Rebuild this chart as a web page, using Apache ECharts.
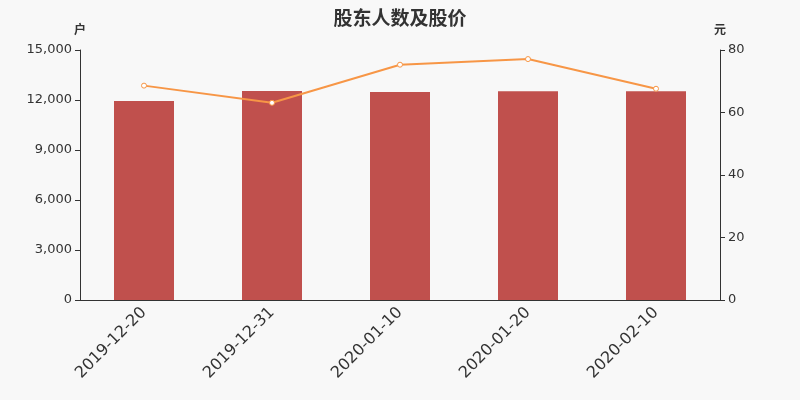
<!DOCTYPE html>
<html><head><meta charset="utf-8">
<script src="https://cdn.jsdelivr.net/npm/echarts@6/dist/echarts.min.js"></script>
<style>html,body{margin:0;padding:0;background:#f8f8f8;}#c{width:800px;height:400px;}</style>
</head><body><div id="c"></div>
<script>
var categories = ['2019-12-20','2019-12-31','2020-01-10','2020-01-20','2020-02-10'];
var holders = [11940, 12540, 12480, 12520, 12520];
var prices = [68.6, 63.1, 75.3, 77.1, 67.6];
var chart = echarts.init(document.getElementById('c'));
chart.setOption({
  backgroundColor: '#f8f8f8',
  animation: false,
  title: {text: '股东人数及股价', left: 'center', top: 3,
    textStyle: {fontSize: 19, fontWeight: 'bold', color: '#333', fontFamily: 'Noto Sans CJK SC'}},
  grid: {left: 80, right: 80, top: 50, bottom: 100},
  xAxis: {type: 'category', data: categories,
    axisLine: {lineStyle: {color: '#333'}},
    axisTick: {lineStyle: {color: '#333'}},
    axisLabel: {rotate: 45, fontSize: 16, color: '#333', margin: 10, fontFamily: 'DejaVu Sans'}},
  yAxis: [
    {type: 'value', name: '户', min: 0, max: 15000, interval: 3000,
     nameTextStyle: {color: '#333', fontSize: 12, fontWeight: 'bold', fontFamily: 'Noto Sans CJK SC'},
     axisLine: {show: true, lineStyle: {color: '#333'}},
     axisTick: {show: true, lineStyle: {color: '#333'}},
     splitLine: {show: false},
     axisLabel: {color: '#333', fontSize: 13, fontFamily: 'DejaVu Sans', formatter: function(v){return v.toLocaleString('en-US');}}},
    {type: 'value', name: '元', min: 0, max: 80, interval: 20,
     nameTextStyle: {color: '#333', fontSize: 12, fontWeight: 'bold', fontFamily: 'Noto Sans CJK SC'},
     axisLine: {show: true, lineStyle: {color: '#333'}},
     axisTick: {show: true, lineStyle: {color: '#333'}},
     splitLine: {show: false},
     axisLabel: {color: '#333', fontSize: 13, fontFamily: 'DejaVu Sans'}}
  ],
  series: [
    {type: 'bar', data: holders, barWidth: 60, itemStyle: {color: '#c0504d'}},
    {type: 'line', yAxisIndex: 1, data: prices, symbol: 'circle', symbolSize: 5,
     lineStyle: {color: '#f79646', width: 2},
     itemStyle: {color: '#fff', borderColor: '#f79646', borderWidth: 1}}
  ]
});
</script></body></html>
